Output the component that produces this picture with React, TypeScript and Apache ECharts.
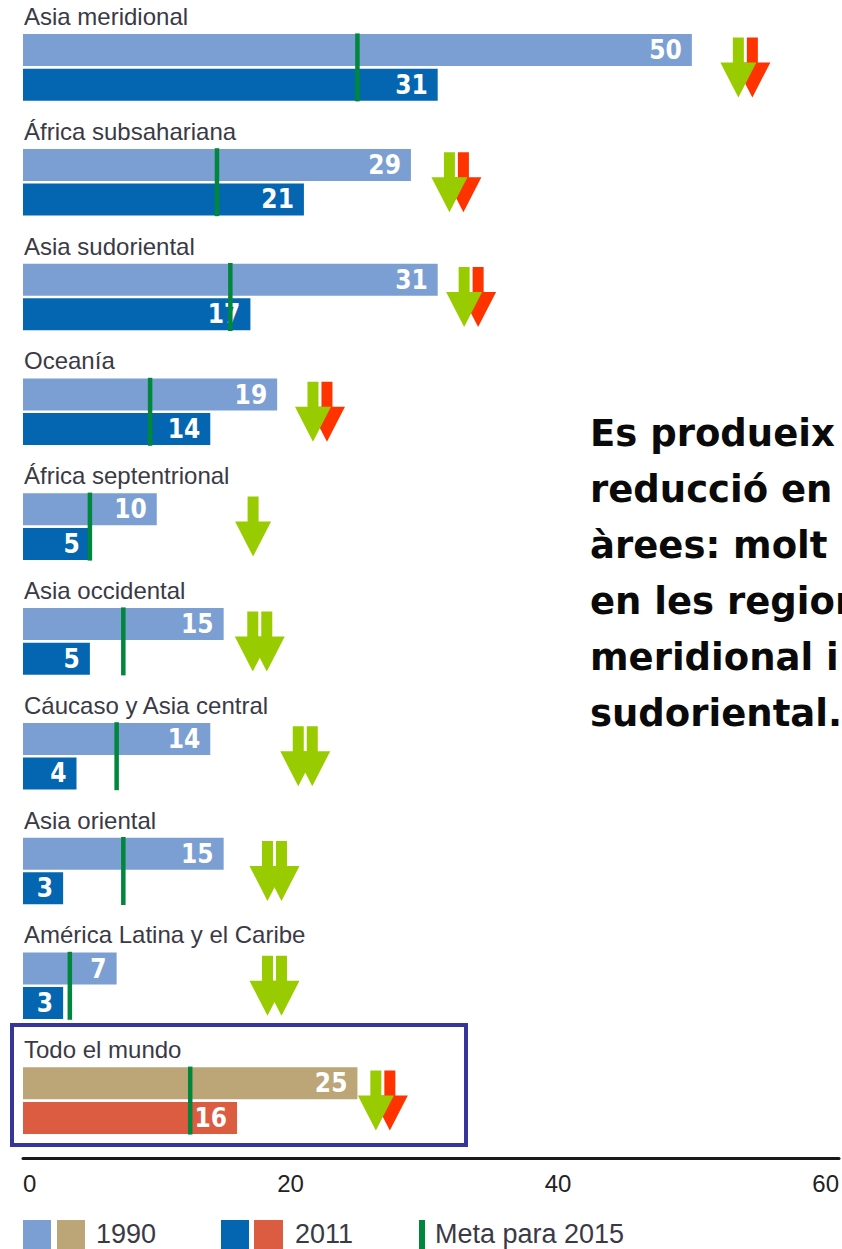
import React, { useEffect, useRef } from 'react';
import * as echarts from 'echarts';

const categories = [
  'Asia meridional',
  'África subsahariana',
  'Asia sudoriental',
  'Oceanía',
  'África septentrional',
  'Asia occidental',
  'Cáucaso y Asia central',
  'Asia oriental',
  'América Latina y el Caribe',
  'Todo el mundo',
];
const values1990 = [50, 29, 31, 19, 10, 15, 14, 15, 7, 25];
const values2011 = [31, 21, 17, 14, 5, 5, 4, 3, 3, 16];
const target2015 = [25, 14.5, 15.5, 9.5, 5, 7.5, 7, 7.5, 3.5, 12.5];
const arrowKinds = ['mixed', 'mixed', 'mixed', 'mixed', 'single', 'double', 'double', 'double', 'double', 'mixed'];
const arrowAt = [54, 32.4, 33.5, 22.2, 17.2, 17.7, 21.1, 18.8, 18.8, 26.9];
const xTicks = [0, 20, 40, 60];
const legendLabels = ['1990', '2011', 'Meta para 2015'];
const noteLines = [
  'Es produeix una',
  'reducció en totes les',
  'àrees: molt important',
  "en les regions d'Asia",
  'meridional i Asia',
  'sudoriental.',
];

const C1990 = '#7b9fd3';
const C2011 = '#0466b1';
const CW1990 = '#bca678';
const CW2011 = '#dc5c42';
const CTARGET = '#00873c';
const CGREEN = '#99cc00';
const CRED = '#ff3300';
const LABEL_FONT = '"Liberation Sans", Arial, sans-serif';
const NUM_FONT = '"Liberation Sans Narrow", "DejaVu Sans Condensed", sans-serif';

function arrowPoints(cx: number, top: number) {
  return [
    [cx - 5.5, top],
    [cx + 5.5, top],
    [cx + 5.5, top + 25],
    [cx + 18, top + 25],
    [cx, top + 60],
    [cx - 18, top + 25],
    [cx - 5.5, top + 25],
  ];
}

export default function App() {
  const ref = useRef<HTMLDivElement>(null);
  useEffect(() => {
    const chart = echarts.init(ref.current!, null, { renderer: 'svg' });
    const last = categories.length - 1;
    const barLabel = {
      show: true,
      position: 'insideRight',
      distance: 10,
      color: '#fff',
      fontSize: 26,
      fontWeight: 'bold',
      fontFamily: NUM_FONT,
    };
    const option: any = {
      animation: false,
      grid: { left: 23, right: 1.6, top: 10, bottom: 91 },
      xAxis: {
        type: 'value',
        min: 0,
        max: 61,
        interval: 20,
        axisLine: { show: true, lineStyle: { color: '#1a1a1a', width: 3 } },
        axisTick: { show: false },
        splitLine: { show: false },
        axisLabel: {
          formatter: (v: number) => (xTicks.includes(v) ? String(v) : ''),
          fontSize: 24,
          color: '#222',
          margin: 13,
          fontFamily: LABEL_FONT,
          alignMinLabel: 'left',
        },
      },
      yAxis: { type: 'category', data: categories, inverse: true, show: false },
      series: [
        {
          name: '1990',
          type: 'bar',
          barWidth: 32,
          barGap: '8%',
          data: values1990.map((v, i) => ({ value: v, itemStyle: { color: i === last ? CW1990 : C1990 } })),
          label: barLabel,
          z: 2,
        },
        {
          name: '2011',
          type: 'bar',
          barWidth: 32,
          barGap: '8%',
          data: values2011.map((v, i) => ({ value: v, itemStyle: { color: i === last ? CW2011 : C2011 } })),
          label: barLabel,
          z: 2,
        },
        {
          name: 'Meta para 2015',
          type: 'custom',
          z: 5,
          data: target2015.map((t, i) => [t, i]),
          renderItem: (params: any, api: any) => {
            const p = api.coord([api.value(0), api.value(1)]);
            const h = 68;
            return {
              type: 'rect',
              shape: { x: p[0] - 2.25, y: p[1] - h / 2, width: 4.5, height: h },
              style: { fill: CTARGET },
            };
          },
        },
        {
          name: 'names',
          type: 'custom',
          z: 5,
          data: categories.map((c, i) => [0, i]),
          renderItem: (params: any, api: any) => {
            const p = api.coord([0, api.value(1)]);
            return {
              type: 'text',
              x: p[0] + 1,
              y: p[1] - 51,
              style: {
                text: categories[params.dataIndex],
                fill: '#3a3a46',
                fontSize: 24,
                fontFamily: LABEL_FONT,
                align: 'left',
                verticalAlign: 'middle',
              },
            };
          },
        },
        {
          name: 'arrows',
          type: 'custom',
          z: 6,
          data: arrowAt.map((a, i) => [a, i]),
          renderItem: (params: any, api: any) => {
            const p = api.coord([api.value(0), api.value(1)]);
            const kind = arrowKinds[params.dataIndex];
            const top = p[1] - 30;
            const children: any[] = [];
            if (kind === 'mixed') {
              children.push({ type: 'polygon', shape: { points: arrowPoints(p[0] + 7, top) }, style: { fill: CRED } });
              children.push({ type: 'polygon', shape: { points: arrowPoints(p[0] - 7, top) }, style: { fill: CGREEN } });
            } else if (kind === 'double') {
              children.push({ type: 'polygon', shape: { points: arrowPoints(p[0] - 7, top) }, style: { fill: CGREEN } });
              children.push({ type: 'polygon', shape: { points: arrowPoints(p[0] + 7, top) }, style: { fill: CGREEN } });
            } else {
              children.push({ type: 'polygon', shape: { points: arrowPoints(p[0], top) }, style: { fill: CGREEN } });
            }
            return { type: 'group', children };
          },
        },
      ],
      graphic: [
        {
          type: 'rect',
          shape: { x: 12, y: 1025, width: 454, height: 120 },
          style: { fill: 'none', stroke: '#35359b', lineWidth: 4 },
          z: 10,
        },
        { type: 'rect', shape: { x: 23, y: 1220, width: 28, height: 29 }, style: { fill: C1990 } },
        { type: 'rect', shape: { x: 57, y: 1220, width: 28, height: 29 }, style: { fill: CW1990 } },
        {
          type: 'text',
          x: 96,
          y: 1234,
          style: { text: legendLabels[0], fill: '#3a3a46', fontSize: 27, fontFamily: LABEL_FONT, verticalAlign: 'middle' },
        },
        { type: 'rect', shape: { x: 221, y: 1220, width: 28, height: 29 }, style: { fill: C2011 } },
        { type: 'rect', shape: { x: 254, y: 1220, width: 29, height: 29 }, style: { fill: CW2011 } },
        {
          type: 'text',
          x: 295,
          y: 1234,
          style: { text: legendLabels[1], fill: '#3a3a46', fontSize: 27, fontFamily: LABEL_FONT, verticalAlign: 'middle' },
        },
        { type: 'rect', shape: { x: 419, y: 1220, width: 6, height: 29 }, style: { fill: CTARGET } },
        {
          type: 'text',
          x: 435,
          y: 1234,
          style: { text: legendLabels[2], fill: '#3a3a46', fontSize: 27, fontFamily: LABEL_FONT, verticalAlign: 'middle' },
        },
        {
          type: 'text',
          x: 590,
          y: 405,
          style: {
            text: noteLines.join('\n'),
            fill: '#0a0a0a',
            fontSize: 37,
            fontWeight: 'bold',
            fontFamily: '"DejaVu Sans", sans-serif',
            lineHeight: 56,
            verticalAlign: 'top',
          },
        },
      ],
    };
    chart.setOption(option);
    return () => chart.dispose();
  }, []);
  return <div ref={ref} style={{ position: 'absolute', left: 0, top: 0, width: 842, height: 1249 }} />;
}
